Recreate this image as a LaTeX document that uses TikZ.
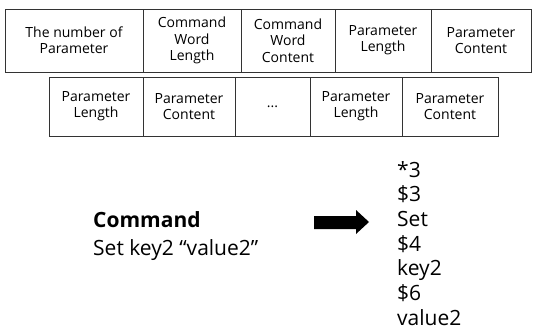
\documentclass[tikz,border=0pt]{standalone}
\usepackage{fontspec}
\setmainfont{Open Sans}
\usepackage{xcolor}

\tikzset{
  cell/.style={draw=black!80, line width=0.8pt, align=center, inner sep=0pt,
    font=\fontsize{14}{16.3}\selectfont},
  bigtext/.style={inner sep=0pt, anchor=base west,
    font=\fontsize{21}{24}\selectfont}
}

\begin{document}
\begin{tikzpicture}[x=1pt, y=-1pt]
\useasboundingbox (0,0) rectangle (533,329);

% first row of fields
\node [cell, minimum width=138, minimum height=63] (num) at (74,40.5) {The number of\\Parameter};
\node [cell, minimum width=98, minimum height=63] (cwl) at (192,40.5) {Command\\Word\\Length};
\node [cell, minimum width=94, minimum height=63] (cwc) at (288,40.5) {Command\\Word\\Content};
\node [cell, minimum width=96, minimum height=63] (pl1) at (383,40.5) {Parameter\\Length};
\node [cell, minimum width=100, minimum height=63] (pc1) at (481,40.5) {Parameter\\Content};

% second row of fields
\node [cell, minimum width=94, minimum height=59] (pl2) at (96,106.5) {Parameter\\Length};
\node [cell, minimum width=92, minimum height=59] (pc2) at (189,106.5) {Parameter\\Content};
\node [cell, minimum width=75, minimum height=59] (dots) at (272.5,106.5) {...};
\node [cell, minimum width=92, minimum height=59] (pl3) at (356,106.5) {Parameter\\Length};
\node [cell, minimum width=96, minimum height=59] (pc3) at (450,106.5) {Parameter\\Content};

% command
\node [bigtext] (cmd) at (93,227) {\textbf{Command}};
\node [bigtext] (set) at (93,255) {Set key2 “value2”};

% arrow
\fill (314,216) -- (356,216) -- (356,210) -- (369,222) -- (356,234) -- (356,229) -- (314,229) -- cycle;

% protocol lines
\node [bigtext] (l1) at (397,177) {*3};
\node [bigtext] (l2) at (397,201.7) {\$3};
\node [bigtext] (l3) at (397,226.3) {Set};
\node [bigtext] (l4) at (397,251) {\$4};
\node [bigtext] (l5) at (397,275.7) {key2};
\node [bigtext] (l6) at (397,300.3) {\$6};
\node [bigtext] (l7) at (397,325) {value2};
\end{tikzpicture}
\end{document}
